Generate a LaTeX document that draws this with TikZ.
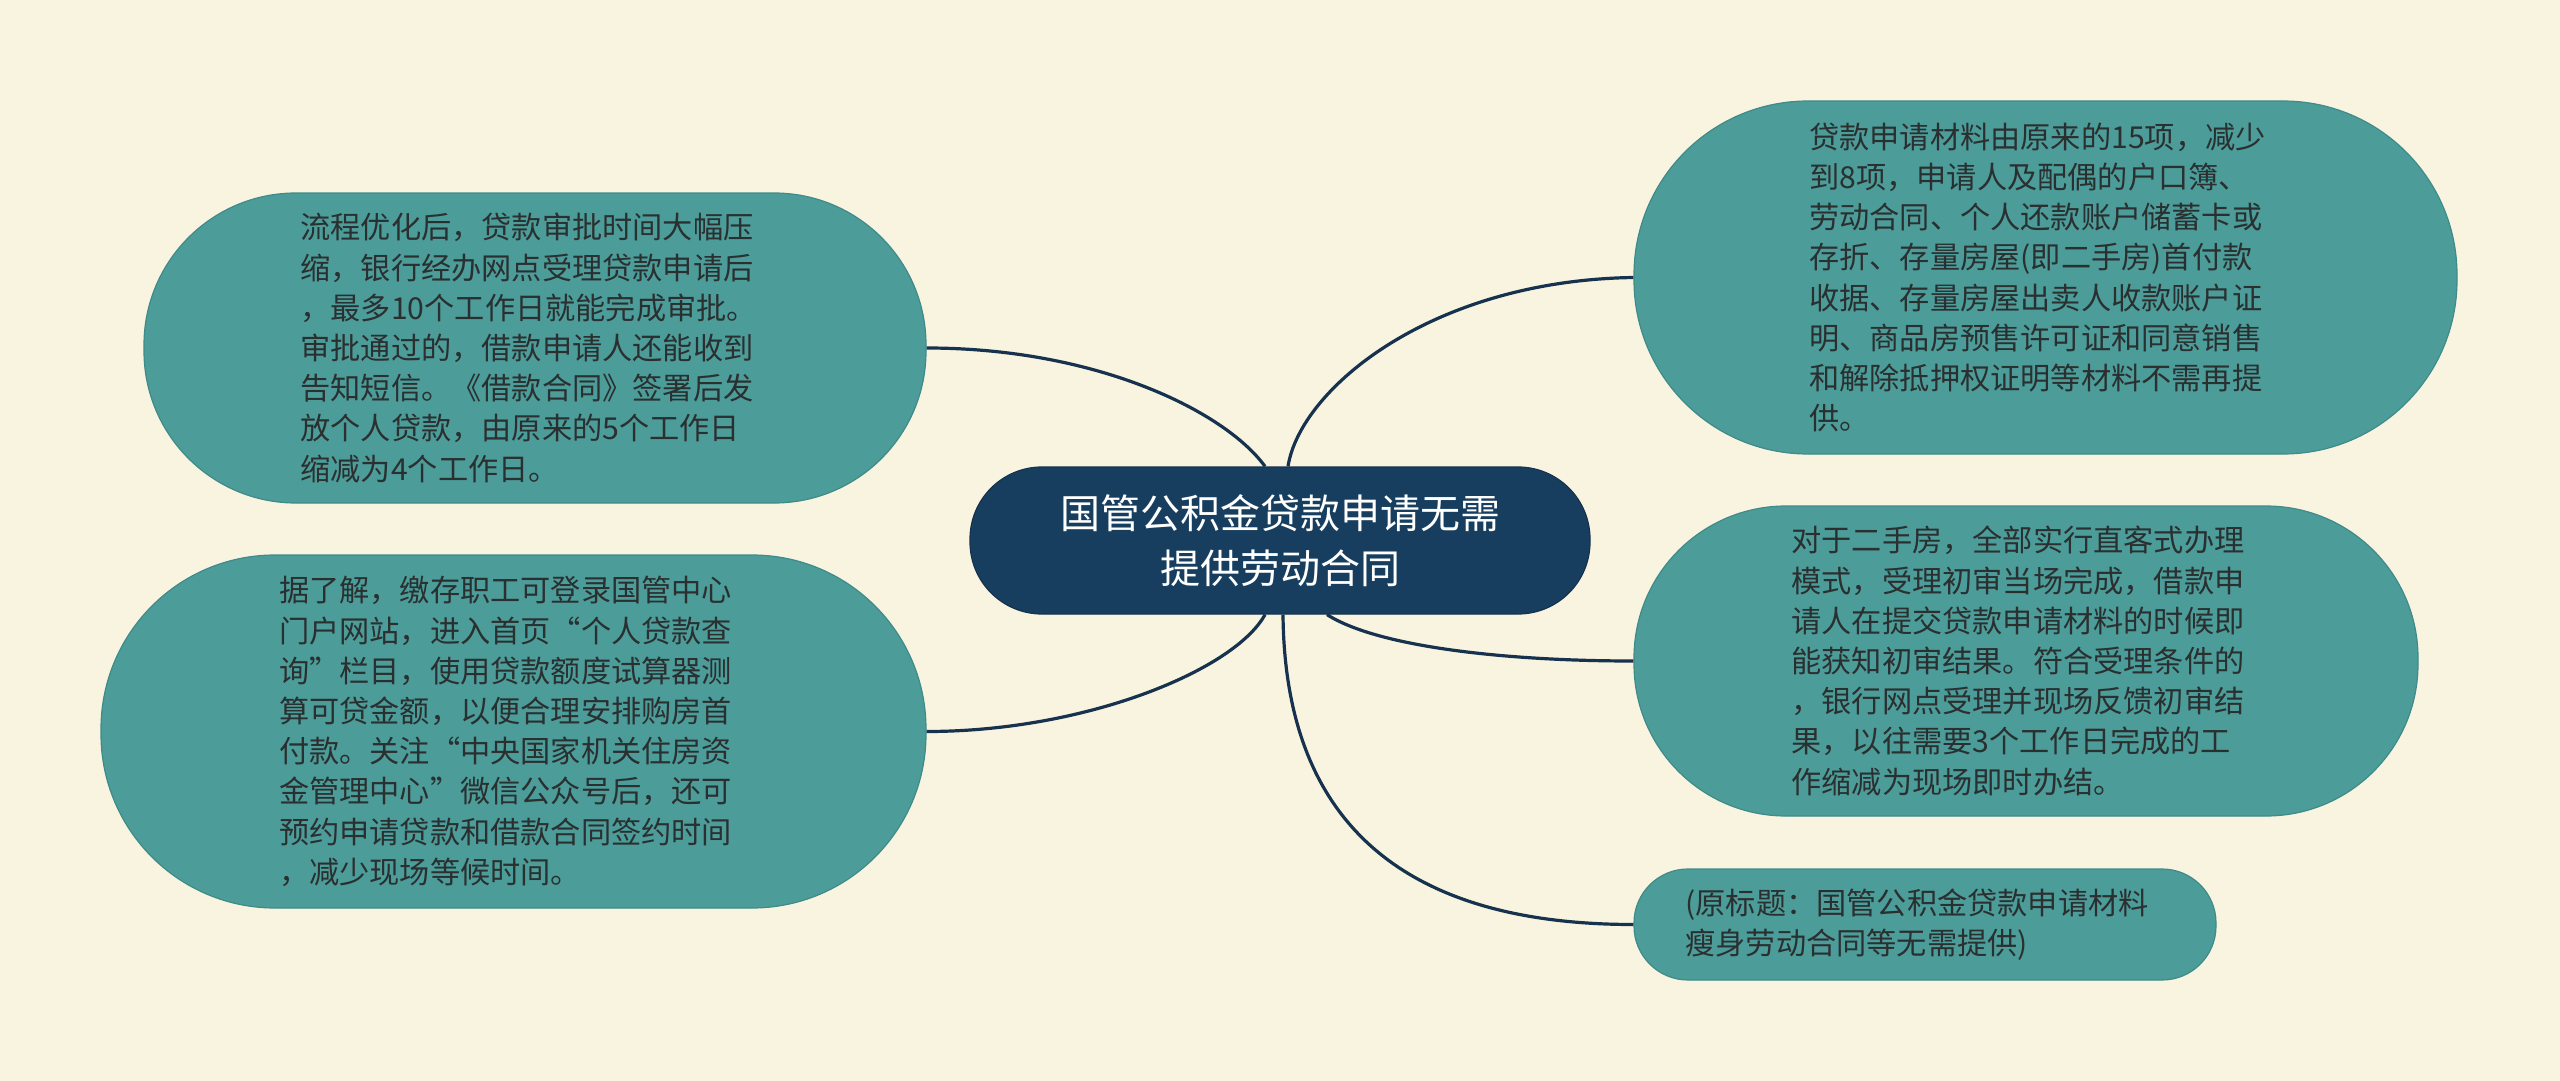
\documentclass[tikz,border=0pt]{standalone}
\usepackage{fontspec}
\setmainfont{Noto Sans CJK SC}
\definecolor{bgc}{HTML}{F9F4E0}
\definecolor{teal1}{HTML}{4C9C9A}
\definecolor{teal2}{HTML}{3F8B89}
\definecolor{navy}{HTML}{173E5E}
\definecolor{navyline}{HTML}{16324E}
\definecolor{txt}{HTML}{2A2F2F}
\newcommand{\padr}{\makebox[8pt]{}}
\tikzset{
  leaf/.style={draw=teal2, line width=0.6pt, fill=teal1, text=txt, align=left,
    font=\fontsize{15.1pt}{20.1pt}\selectfont, inner sep=0pt},
  root/.style={draw=navyline, line width=0.6pt, fill=navy, text=white, align=center,
    font=\fontsize{20pt}{27.5pt}\selectfont, inner sep=0pt,
    minimum width=310pt, minimum height=73.5pt, rounded corners=36pt},
  link/.style={draw=navyline, line width=1.6pt},
}
\begin{document}
\begin{tikzpicture}[x=0.5pt,y=-0.5pt]
\fill[bgc] (0,0) rectangle (2560,1081);
\useasboundingbox (0,0) rectangle (2560,1081);

\node[root] (c) at (1280,540.5) {国管公积金贷款申请无需\\提供劳动合同};

\node[leaf, minimum width=391pt, minimum height=155pt, rounded corners=76pt] (tl) at (535,348)
 {流程优化后，贷款审批时间大幅压\padr\\缩，银行经办网点受理贷款申请后\\，最多10个工作日就能完成审批。\\审批通过的，借款申请人还能收到\\告知短信。《借款合同》签署后发\\放个人贷款，由原来的5个工作日\\缩减为4个工作日。};

\node[leaf, minimum width=412.5pt, minimum height=176.5pt, rounded corners=87pt] (bl) at (513.5,731.5)
 {据了解，缴存职工可登录国管中心\padr\\门户网站，进入首页“个人贷款查\\询”栏目，使用贷款额度试算器测\\算可贷金额，以便合理安排购房首\\付款。关注“中央国家机关住房资\\金管理中心”微信公众号后，还可\\预约申请贷款和借款合同签约时间\\，减少现场等候时间。};

\node[leaf, minimum width=411.5pt, minimum height=176.5pt, rounded corners=87pt] (tr) at (2045.5,277.5)
 {贷款申请材料由原来的15项，减少\padr\\到8项，申请人及配偶的户口簿、\\劳动合同、个人还款账户储蓄卡或\\存折、存量房屋(即二手房)首付款\\收据、存量房屋出卖人收款账户证\\明、商品房预售许可证和同意销售\\和解除抵押权证明等材料不需再提\\供。};

\node[leaf, minimum width=392pt, minimum height=155pt, rounded corners=76pt] (mr) at (2026,661)
 {对于二手房，全部实行直客式办理\padr\\模式，受理初审当场完成，借款申\\请人在提交贷款申请材料的时候即\\能获知初审结果。符合受理条件的\\，银行网点受理并现场反馈初审结\\果，以往需要3个工作日完成的工\\作缩减为现场即时办结。};

\node[leaf, minimum width=291pt, minimum height=55.5pt, rounded corners=27pt] (br) at (1925,924.5)
 {(原标题：国管公积金贷款申请材料\padr\\瘦身劳动合同等无需提供)};

\draw[link] (tl.east) .. controls +(170,0) and +(-40,-55) .. ([xshift=-7.5pt]c.north);
\draw[link] ([xshift=4pt]c.north) .. controls +(12,-77) and +(-203,3) .. (tr.west);
\draw[link] (bl.east) .. controls +(160,0) and +(-30,55) .. ([xshift=-7.5pt]c.south);
\draw[link] ([xshift=23.5pt]c.south) .. controls +(50,32) and +(-130,0) .. (mr.west);
\draw[link] ([xshift=1.5pt]c.south) .. controls +(2,225) and +(-210,0) .. (br.west);
\end{tikzpicture}
\end{document}
